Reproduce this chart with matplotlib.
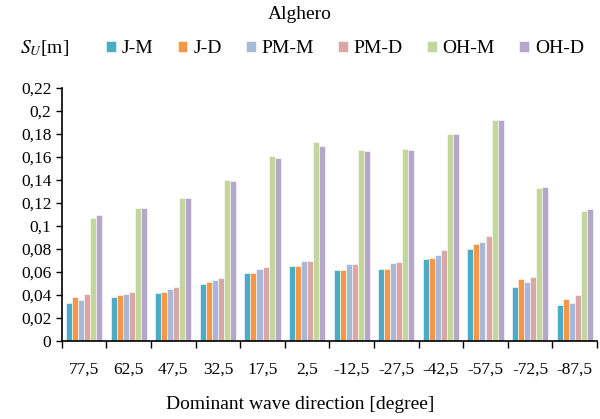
#!/usr/bin/env python3

import numpy as np
import matplotlib
matplotlib.use('Agg')
import matplotlib.pyplot as plt

directions = ["77,5", "62,5", "47,5", "32,5", "17,5", "2,5", "-12,5", "-27,5",
              "-42,5", "-57,5", "-72,5", "-87,5"]
series_names = ["J-M", "J-D", "PM-M", "PM-D", "OH-M", "OH-D"]

j_m  = [0.033, 0.038, 0.042, 0.050, 0.059, 0.065, 0.062, 0.063, 0.071, 0.080, 0.047, 0.031]
j_d  = [0.038, 0.040, 0.043, 0.051, 0.059, 0.065, 0.062, 0.063, 0.072, 0.084, 0.054, 0.037]
pm_m = [0.036, 0.041, 0.045, 0.053, 0.063, 0.070, 0.067, 0.068, 0.075, 0.086, 0.051, 0.033]
pm_d = [0.041, 0.043, 0.047, 0.055, 0.064, 0.070, 0.067, 0.069, 0.079, 0.091, 0.056, 0.040]
oh_m = [0.107, 0.116, 0.124, 0.140, 0.161, 0.173, 0.166, 0.167, 0.180, 0.192, 0.133, 0.113]
oh_d = [0.110, 0.116, 0.124, 0.139, 0.159, 0.170, 0.165, 0.166, 0.180, 0.192, 0.134, 0.115]

colors = ['#4BACC6', '#F79646', '#A7B8D8', '#D8A8A7', '#C3D69B', '#B4A7C9']

y_ticks = [0, 0.02, 0.04, 0.06, 0.08, 0.1, 0.12, 0.14, 0.16, 0.18, 0.2, 0.22]
y_labels = ["0", "0,02", "0,04", "0,06", "0,08", "0,1", "0,12", "0,14",
            "0,16", "0,18", "0,2", "0,22"]

plt.rcParams['font.family'] = ['Liberation Serif', 'DejaVu Serif']
plt.rcParams['mathtext.fontset'] = 'stix'

#------------------------------------------------------------
fig = plt.figure(figsize=(6.0, 4.19), dpi=100)
ax = fig.add_axes([0.103, 0.186, 0.892, 0.604])

data = [j_m, j_d, pm_m, pm_d, oh_m, oh_d]
x = np.arange(len(directions))
bw = 0.135
for i, (vals, name) in enumerate(zip(data, series_names)):
    ax.bar(x + (i - 2.5) * bw, vals, width=bw, color=colors[i], label=name,
           edgecolor='white', linewidth=0.4)

ax.set_xlim(-0.5, len(directions) - 0.5)
ax.set_ylim(0, 0.22)
ax.set_yticks(y_ticks)
ax.set_yticklabels(y_labels, fontsize=12.5)
ax.set_xticks(x)
ax.set_xticklabels(directions, fontsize=12.5)
ax.tick_params(axis='x', length=0, pad=15)
ax.set_xticks(np.arange(len(directions) + 1) - 0.5, minor=True)
ax.tick_params(axis='x', which='minor', length=5, width=1, direction='out')
ax.tick_params(axis='y', length=4, width=1, direction='out')
ax.spines['top'].set_visible(False)
ax.spines['right'].set_visible(False)
ax.spines['left'].set_linewidth(1.2)
ax.spines['bottom'].set_linewidth(1.2)

fig.text(0.5, 0.965, "Alghero", ha='center', va='center', fontsize=14)
fig.text(0.075, 0.885, "$S_U$[m]", ha='center', va='center', fontsize=14)
fig.text(0.5, 0.035, "Dominant wave direction [degree]", ha='center', va='center', fontsize=14)

ax.legend(loc='center left', bbox_to_anchor=(0.068, 1.155), ncol=6, frameon=False,
          fontsize=14, handlelength=0.5, handleheight=0.5, handletextpad=0.3,
          columnspacing=1.25, borderaxespad=0)

plt.savefig("out.png", dpi=100)
